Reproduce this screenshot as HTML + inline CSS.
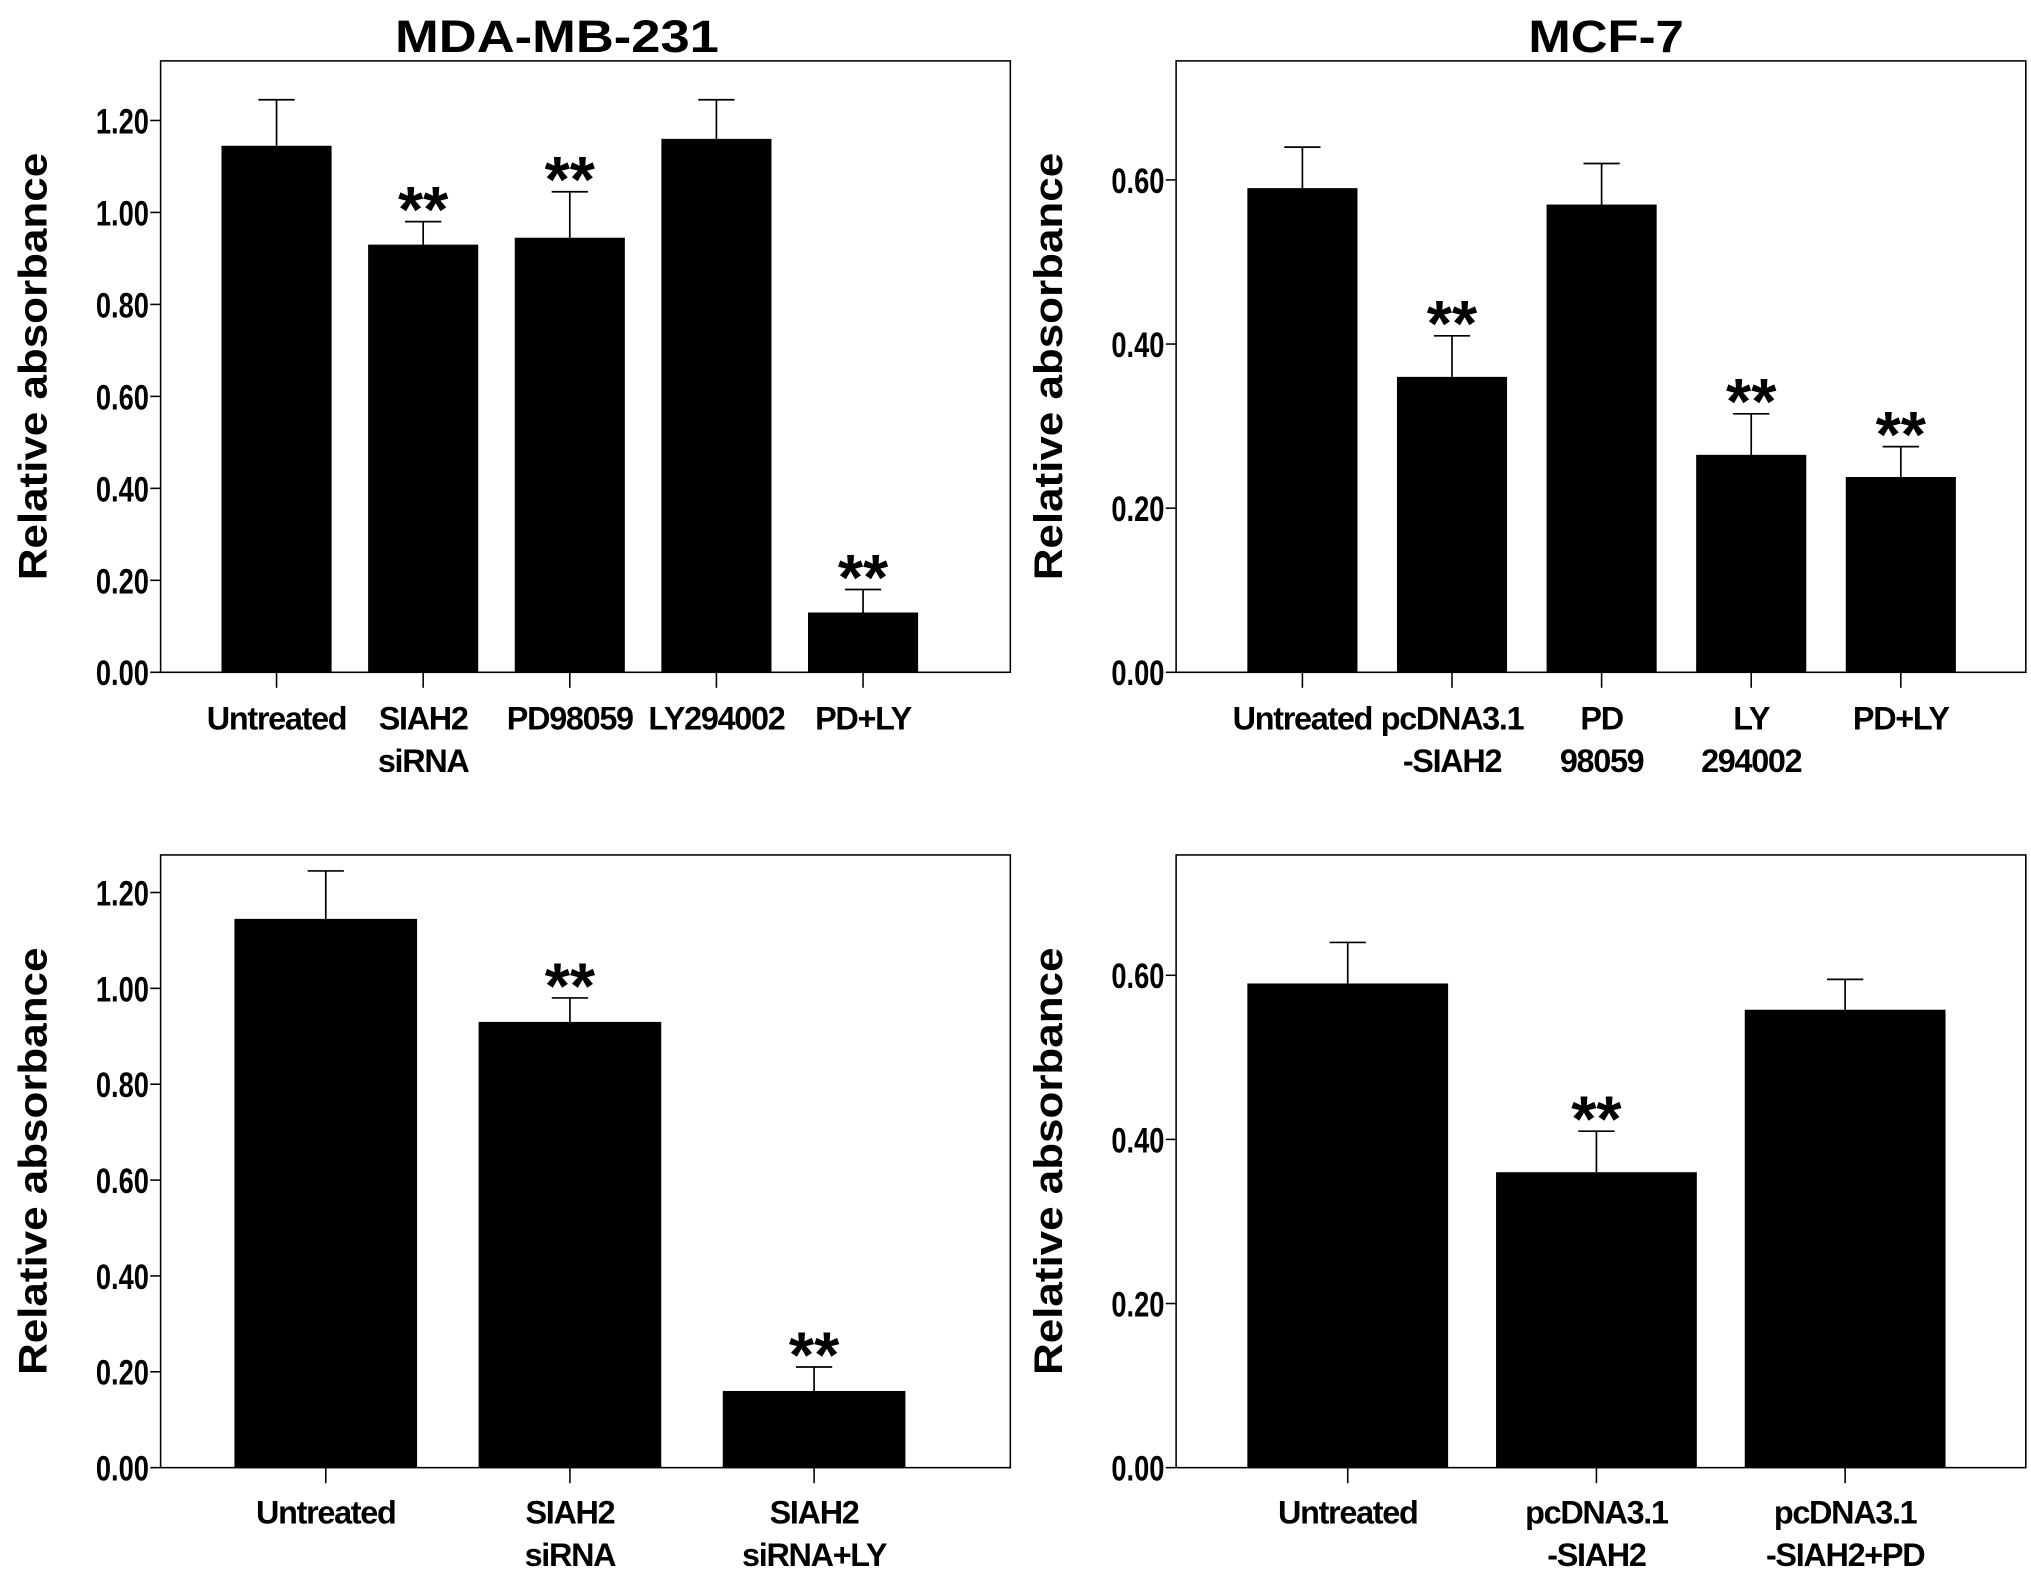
<!DOCTYPE html>
<html><head><meta charset="utf-8"><style>
html,body{margin:0;padding:0;background:#fff;}
svg{display:block;font-family:"Liberation Sans",Arial,sans-serif;}
</style></head><body>
<svg id="chart" width="2031" height="1592" viewBox="0 0 1568 1229" preserveAspectRatio="none" xmlns="http://www.w3.org/2000/svg">
<text x="430" y="40" font-size="35" font-weight="bold" text-anchor="middle" textLength="250" lengthAdjust="spacingAndGlyphs">MDA-MB-231</text>
<text x="1240" y="40" font-size="35" font-weight="bold" text-anchor="middle" textLength="120" lengthAdjust="spacingAndGlyphs">MCF-7</text>
</svg>
<script>
const p1Cats=[["Untreated"],["SIAH2","siRNA"],["PD98059"],["LY294002"],["PD+LY"]];
const p1Vals=[1.145,0.93,0.945,1.16,0.13];
const p1Errs=[1.245,0.98,1.045,1.245,0.18];
const p1Sig=[false,true,true,false,true];
const p2Cats=[["Untreated"],["pcDNA3.1","-SIAH2"],["PD","98059"],["LY","294002"],["PD+LY"]];
const p2Vals=[0.59,0.36,0.57,0.265,0.238];
const p2Errs=[0.64,0.41,0.62,0.315,0.275];
const p2Sig=[false,true,false,true,true];
const p3Cats=[["Untreated"],["SIAH2","siRNA"],["SIAH2","siRNA+LY"]];
const p3Vals=[1.145,0.93,0.16];
const p3Errs=[1.245,0.98,0.21];
const p3Sig=[false,true,true];
const p4Cats=[["Untreated"],["pcDNA3.1","-SIAH2"],["pcDNA3.1","-SIAH2+PD"]];
const p4Vals=[0.59,0.36,0.558];
const p4Errs=[0.64,0.41,0.595];
const p4Sig=[false,true,false];
const ticksA=[0,0.2,0.4,0.6,0.8,1.0,1.2];
const ticksB=[0,0.2,0.4,0.6];

const NS="http://www.w3.org/2000/svg";
const svg=document.getElementById('chart');
function mk(tag,attrs,parent){const e=document.createElementNS(NS,tag);for(const k in attrs)e.setAttribute(k,attrs[k]);(parent||svg).appendChild(e);return e;}

function panel(id,left,top,right,axisY,ymax,ticks,cats,vals,errs,sig,barW,firstCenter,step,labelY){
  const g=mk('g',{});
  
  
  const y=v=>axisY-(v/ymax)*(axisY-top);
  const fr=mk('rect',{x:left,y:top,width:right-left,height:axisY-top,fill:'none',stroke:'#000','stroke-width':1.2},g);
  
  
  ticks.forEach(t=>{
    const l=mk('line',{x1:left-8,x2:left,y1:y(t),y2:y(t),stroke:'#000','stroke-width':1.2},g);
    
    
    const tx=mk('text',{x:left-9,y:y(t)+10,'font-size':27,'font-weight':'bold','text-anchor':'end',textLength:41,lengthAdjust:'spacingAndGlyphs'},g);
    
    
    tx.textContent=t.toFixed(2);
  });
  const yt=mk('text',{x:0,y:0,'font-size':31,'font-weight':'bold','text-anchor':'middle',textLength:330,lengthAdjust:'spacingAndGlyphs',transform:`translate(${left-88},${(top+axisY)/2}) rotate(-90)`},g);
  
  
  yt.textContent='Relative absorbance';
  cats.forEach((c,i)=>{
    const cx=firstCenter+i*step;
    const b=mk('rect',{x:cx-barW/2,y:y(vals[i]),width:barW,height:axisY-y(vals[i]),fill:'#000'},g);
    
    
    const e=mk('path',{d:`M${cx},${y(vals[i])}V${y(errs[i])}M${cx-14},${y(errs[i])}H${cx+14}`,stroke:'#000','stroke-width':1.3,fill:'none'},g);
    
    
    const tk=mk('line',{x1:cx,x2:cx,y1:axisY,y2:axisY+12,stroke:'#000','stroke-width':1.2},g);
    
    
    if(sig[i]){
      const s=mk('text',{x:cx,y:y(errs[i])+8,'font-size':50,'font-weight':'bold','text-anchor':'middle'},g);
      
      
      s.textContent='**';
    }
    c.forEach((line,j)=>{
      const t=mk('text',{x:cx,y:labelY+j*33,'font-size':25,'font-weight':'bold','text-anchor':'middle','letter-spacing':'-1'},g);
      
      
      t.textContent=line;
    });
  });
}
panel('mda-top',124,47,780,519,1.2*(519-47)/(519-93),ticksA,p1Cats,p1Vals,p1Errs,p1Sig,85,213.5,113.2,563);
panel('mcf7-top',908,47,1564,519,0.2*(519-47)/126.7,ticksB,p2Cats,p2Vals,p2Errs,p2Sig,85,1005.5,115.5,563);
panel('mda-bottom',124,660,780,1133,1.2*(1133-660)/(1133-689),ticksA,p3Cats,p3Vals,p3Errs,p3Sig,141,251.5,188.5,1176);
panel('mcf7-bottom',908,660,1564,1133,0.2*(1133-660)/126.7,ticksB,p4Cats,p4Vals,p4Errs,p4Sig,155,1040.5,192,1176);
</script>
</body></html>
